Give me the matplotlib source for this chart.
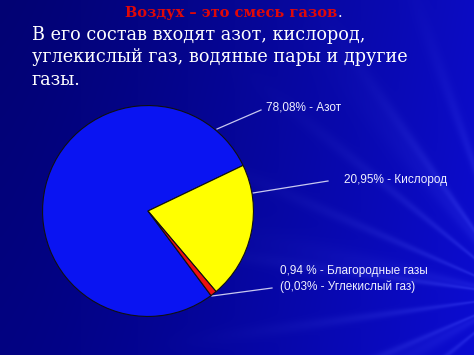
import numpy as np
import matplotlib
matplotlib.use("Agg")
import matplotlib.pyplot as plt

# Composition of air, percent
gases = ["Азот", "Кислород", "Благородные газы"]
shares = [78.08, 20.95, 0.97]
colors = ["#0a14f2", "#ffff00", "#ee1010"]

label_lines = [
    ["78,08% - Азот"],
    ["20,95% - Кислород"],
    ["0,94 % - Благородные газы", "(0,03% - Углекислый газ)"],
]

title_text = "Воздух – это смесь газов"
body_lines = [
    "В его состав входят азот, кислород,",
    "углекислый газ, водяные пары и другие",
    "газы.",
]

W, H = 474, 355
fig = plt.figure(figsize=(W / 100, H / 100), dpi=100)

# Background: navy slide with soft light rays fanning from the right
ax_bg = fig.add_axes([0, 0, 1, 1])
ax_bg.set_xlim(0, W)
ax_bg.set_ylim(H, 0)
ax_bg.axis("off")

yy, xx = np.mgrid[0:H, 0:W].astype(float)
ox, oy = 520.0, 295.0
ang = np.arctan2(yy - oy, xx - ox)
dist = np.hypot(xx - ox, yy - oy)
rays = (0.5 + 0.5 * np.cos(ang * 23.0)) ** 10 + 0.6 * (0.5 + 0.5 * np.cos(ang * 9.0 + 1.3)) ** 12
fade = np.clip(1.0 - dist / 380.0, 0, 1) ** 1.5
glow = np.clip(xx / W, 0, 1) ** 1.3
base_r = 2 + 10 * glow
base_g = 2 + 10 * glow
base_b = 115 + 80 * glow + 15 * np.clip(yy / H, 0, 1)
streak = rays * fade * 40
bg = np.dstack([base_r + streak * 0.6, base_g + streak * 0.7, base_b + streak * 0.5])
bg = np.clip(bg, 0, 255).astype(np.uint8)
ax_bg.imshow(bg, extent=(0, W, H, 0), aspect="auto", interpolation="bilinear", zorder=0)

# Title (red, bold serif) with a white full stop
ax_bg.text(337.5, 13, title_text, color="#e00808", fontsize=10.5, fontweight="bold",
           family="DejaVu Serif", ha="right", va="center", zorder=3)
ax_bg.text(338, 13, ".", color="white", fontsize=10.5, family="DejaVu Serif",
           ha="left", va="center", zorder=3)

for i, line in enumerate(body_lines):
    ax_bg.text(32, 35 + i * 22.5, line, color="white", fontsize=12.7,
               family="DejaVu Serif", ha="left", va="center", zorder=3)

# Leader lines and labels
leaders = [((217, 129), (261, 110)), ((253, 193), (328, 181)), ((212, 296), (272, 288))]
label_pos = [(266, 108), (344, 180), (280, 271)]
for (p0, p1) in leaders:
    ax_bg.plot([p0[0], p1[0]], [p0[1], p1[1]], color="#c8c8f0", lw=0.9, zorder=2)
for (x, y), lines in zip(label_pos, label_lines):
    for j, s in enumerate(lines):
        ax_bg.text(x, y + j * 16, s, color="#f0f0ff", fontsize=8.5,
                   family="Liberation Sans", ha="left", va="center", zorder=3)

# Pie
cx, cy, r = 148, 211, 106.5
ax_pie = fig.add_axes([(cx - r) / W, (H - cy - r) / H, 2 * r / W, 2 * r / H])
ax_pie.pie(shares, colors=colors, startangle=306.7, counterclock=False,
           wedgeprops=dict(edgecolor="#101010", linewidth=0.8))
ax_pie.set_xlim(-1.01, 1.01)
ax_pie.set_ylim(-1.01, 1.01)
ax_pie.axis("off")

fig.savefig("out.png", dpi=100)
